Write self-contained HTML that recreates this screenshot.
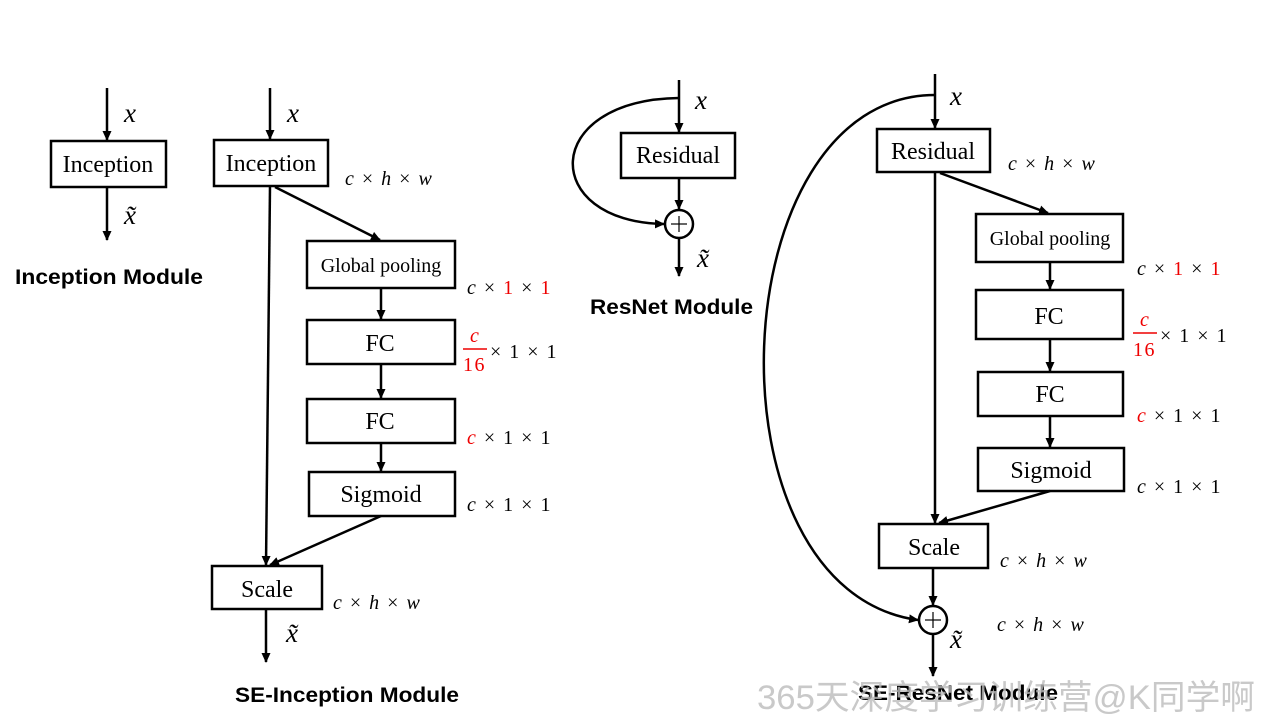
<!DOCTYPE html>
<html><head><meta charset="utf-8"><style>
html,body{margin:0;padding:0;background:#fff;}
svg{display:block;}
.b{fill:#fff;stroke:#000;stroke-width:2.5;}
.l{stroke:#000;stroke-width:2.5;fill:none;}
.t{font-family:"Liberation Serif",serif;font-size:24px;text-anchor:middle;}
.m{font-family:"Liberation Serif",serif;font-style:italic;font-size:27px;}
.d{font-family:"Liberation Serif",serif;font-size:20px;letter-spacing:1.5px;}
.h{font-family:"Liberation Sans",sans-serif;font-weight:bold;font-size:21px;}
.r{fill:#e00;}
</style></head><body>
<svg width="1276" height="718" viewBox="0 0 1276 718" xmlns="http://www.w3.org/2000/svg">
<defs><marker id="a" markerWidth="10" markerHeight="10" refX="9" refY="5" orient="auto" markerUnits="userSpaceOnUse"><path d="M0,0.5 L10,5 L0,9.5 z" fill="#000"/></marker></defs>

<!-- Inception Module -->
<line class="l" x1="107" y1="88" x2="107" y2="140" marker-end="url(#a)"/>
<rect class="b" x="51" y="141" width="115" height="46"/>
<text class="t" x="108" y="172">Inception</text>
<line class="l" x1="107" y1="187" x2="107" y2="240" marker-end="url(#a)"/>
<text class="m" x="124" y="122">x</text>
<text class="m" x="124" y="224">x̃</text>
<text class="h" x="15" y="284" textLength="188" lengthAdjust="spacingAndGlyphs">Inception Module</text>

<!-- SE-Inception -->
<line class="l" x1="270" y1="88" x2="270" y2="139" marker-end="url(#a)"/>
<text class="m" x="287" y="122">x</text>
<rect class="b" x="214" y="140" width="114" height="46"/>
<text class="t" x="271" y="171">Inception</text>
<text class="d" x="345" y="185"><tspan font-style="italic">c</tspan> × <tspan font-style="italic">h</tspan> × <tspan font-style="italic">w</tspan></text>
<line class="l" x1="270" y1="186" x2="266" y2="565" marker-end="url(#a)"/>
<line class="l" x1="275" y1="187" x2="380" y2="240" marker-end="url(#a)"/>
<rect class="b" x="307" y="241" width="148" height="47"/>
<text class="t" x="381" y="272" style="font-size:20px">Global pooling</text>
<text class="d" x="467" y="294"><tspan font-style="italic">c</tspan> × <tspan class="r">1</tspan> × <tspan class="r">1</tspan></text>
<line class="l" x1="381" y1="288" x2="381" y2="319" marker-end="url(#a)"/>
<rect class="b" x="307" y="320" width="148" height="44"/>
<text class="t" x="380" y="351">FC</text>
<text class="d r" x="470" y="342" font-style="italic">c</text>
<line x1="463" y1="349" x2="487" y2="349" stroke="#e00" stroke-width="1.5"/>
<text class="d r" x="463" y="371">16</text>
<text class="d" x="490" y="358">× 1 × 1</text>
<line class="l" x1="381" y1="364" x2="381" y2="398" marker-end="url(#a)"/>
<rect class="b" x="307" y="399" width="148" height="44"/>
<text class="t" x="380" y="429">FC</text>
<text class="d" x="467" y="444"><tspan font-style="italic" class="r">c</tspan> × 1 × 1</text>
<line class="l" x1="381" y1="443" x2="381" y2="471" marker-end="url(#a)"/>
<rect class="b" x="309" y="472" width="146" height="44"/>
<text class="t" x="381" y="502">Sigmoid</text>
<text class="d" x="467" y="511"><tspan font-style="italic">c</tspan> × 1 × 1</text>
<line class="l" x1="381" y1="516" x2="270" y2="565" marker-end="url(#a)"/>
<rect class="b" x="212" y="566" width="110" height="43"/>
<text class="t" x="267" y="597">Scale</text>
<text class="d" x="333" y="609"><tspan font-style="italic">c</tspan> × <tspan font-style="italic">h</tspan> × <tspan font-style="italic">w</tspan></text>
<line class="l" x1="266" y1="609" x2="266" y2="662" marker-end="url(#a)"/>
<text class="m" x="286" y="642">x̃</text>
<text class="h" x="235" y="702" textLength="224" lengthAdjust="spacingAndGlyphs">SE-Inception Module</text>

<!-- ResNet -->
<line class="l" x1="679" y1="80" x2="679" y2="132" marker-end="url(#a)"/>
<text class="m" x="695" y="109">x</text>
<path class="l" d="M679,98 C540,100 540,222 664,224" marker-end="url(#a)"/>
<rect class="b" x="621" y="133" width="114" height="45"/>
<text class="t" x="678" y="163">Residual</text>
<line class="l" x1="679" y1="178" x2="679" y2="209" marker-end="url(#a)"/>
<circle cx="679" cy="224" r="14" fill="#fff" stroke="#000" stroke-width="2.5"/>
<line x1="671" y1="224" x2="687" y2="224" stroke="#000" stroke-width="1.2"/>
<line x1="679" y1="216" x2="679" y2="232" stroke="#000" stroke-width="1.2"/>
<line class="l" x1="679" y1="238" x2="679" y2="276" marker-end="url(#a)"/>
<text class="m" x="697" y="267">x̃</text>
<text class="h" x="590" y="314" textLength="163" lengthAdjust="spacingAndGlyphs">ResNet Module</text>

<!-- SE-ResNet -->
<line class="l" x1="935" y1="74" x2="935" y2="128" marker-end="url(#a)"/>
<text class="m" x="950" y="105">x</text>
<path class="l" d="M935,95 C720,95 700,590 918,620" marker-end="url(#a)"/>
<rect class="b" x="877" y="129" width="113" height="43"/>
<text class="t" x="933" y="159">Residual</text>
<text class="d" x="1008" y="170"><tspan font-style="italic">c</tspan> × <tspan font-style="italic">h</tspan> × <tspan font-style="italic">w</tspan></text>
<line class="l" x1="935" y1="172" x2="935" y2="523" marker-end="url(#a)"/>
<line class="l" x1="940" y1="173" x2="1048" y2="213" marker-end="url(#a)"/>
<rect class="b" x="976" y="214" width="147" height="48"/>
<text class="t" x="1050" y="245" style="font-size:20px">Global pooling</text>
<text class="d" x="1137" y="275"><tspan font-style="italic">c</tspan> × <tspan class="r">1</tspan> × <tspan class="r">1</tspan></text>
<line class="l" x1="1050" y1="262" x2="1050" y2="289" marker-end="url(#a)"/>
<rect class="b" x="976" y="290" width="147" height="49"/>
<text class="t" x="1049" y="324">FC</text>
<text class="d r" x="1140" y="326" font-style="italic">c</text>
<line x1="1133" y1="333" x2="1157" y2="333" stroke="#e00" stroke-width="1.5"/>
<text class="d r" x="1133" y="356">16</text>
<text class="d" x="1160" y="342">× 1 × 1</text>
<line class="l" x1="1050" y1="339" x2="1050" y2="371" marker-end="url(#a)"/>
<rect class="b" x="978" y="372" width="145" height="44"/>
<text class="t" x="1050" y="402">FC</text>
<text class="d" x="1137" y="422"><tspan font-style="italic" class="r">c</tspan> × 1 × 1</text>
<line class="l" x1="1050" y1="416" x2="1050" y2="447" marker-end="url(#a)"/>
<rect class="b" x="978" y="448" width="146" height="43"/>
<text class="t" x="1051" y="478">Sigmoid</text>
<text class="d" x="1137" y="493"><tspan font-style="italic">c</tspan> × 1 × 1</text>
<line class="l" x1="1050" y1="491" x2="939" y2="523" marker-end="url(#a)"/>
<rect class="b" x="879" y="524" width="109" height="44"/>
<text class="t" x="934" y="555">Scale</text>
<text class="d" x="1000" y="567"><tspan font-style="italic">c</tspan> × <tspan font-style="italic">h</tspan> × <tspan font-style="italic">w</tspan></text>
<line class="l" x1="933" y1="568" x2="933" y2="605" marker-end="url(#a)"/>
<circle cx="933" cy="620" r="14" fill="#fff" stroke="#000" stroke-width="2.5"/>
<line x1="925" y1="620" x2="941" y2="620" stroke="#000" stroke-width="1.2"/>
<line x1="933" y1="612" x2="933" y2="628" stroke="#000" stroke-width="1.2"/>
<text class="d" x="997" y="631"><tspan font-style="italic">c</tspan> × <tspan font-style="italic">h</tspan> × <tspan font-style="italic">w</tspan></text>
<text class="m" x="950" y="648">x̃</text>
<line class="l" x1="933" y1="634" x2="933" y2="676" marker-end="url(#a)"/>
<text class="h" x="858" y="700" textLength="200" lengthAdjust="spacingAndGlyphs">SE-ResNet Module</text>
<text x="757" y="709" font-family="'Liberation Sans','Noto Sans CJK SC',sans-serif" font-size="34" fill="#bbb" fill-opacity="0.8" textLength="498" lengthAdjust="spacingAndGlyphs">365天深度学习训练营@K同学啊</text>
</svg>
</body></html>
